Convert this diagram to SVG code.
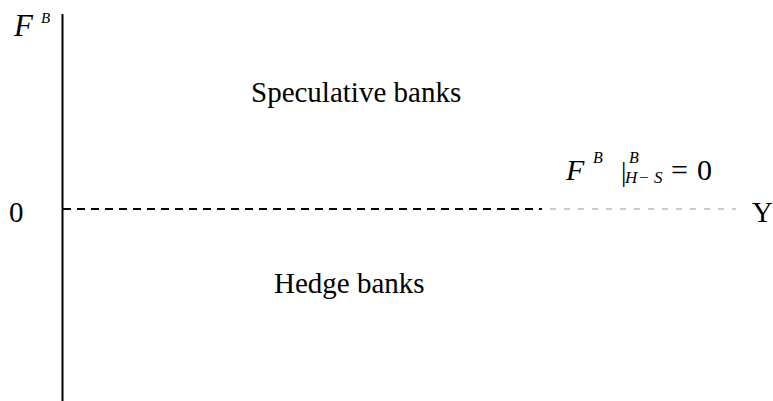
<svg xmlns="http://www.w3.org/2000/svg" width="773" height="401" viewBox="0 0 773 401">
<rect width="773" height="401" fill="#fff"/>
<g id="axes">
<line x1="62.5" y1="14" x2="62.5" y2="401" stroke="#000" stroke-width="2"/>
</g>
<g id="connectors">
<line x1="63" y1="209" x2="542" y2="209" stroke="#000" stroke-width="2" stroke-dasharray="8 6"/>
<line x1="550" y1="209" x2="736" y2="209" stroke="#999" stroke-width="1" stroke-dasharray="6 8"/>
</g>
<g id="labels">
<text font-family="Liberation Serif, serif" font-style="italic" x="14" y="36" font-size="31">F</text>
<text font-family="Liberation Serif, serif" font-style="italic" x="41" y="23" font-size="15">B</text>
<text font-family="Liberation Serif, serif" x="9" y="222" font-size="29">0</text>
<text font-family="Liberation Serif, serif" x="752" y="222" font-size="29">Y</text>
<text font-family="Liberation Serif, serif" x="251" y="102" font-size="29">Speculative banks</text>
<text font-family="Liberation Serif, serif" x="274" y="293" font-size="29">Hedge banks</text>
<g id="formula">
<text font-family="Liberation Serif, serif" font-style="italic" x="566" y="180" font-size="30">F</text>
<text font-family="Liberation Serif, serif" font-style="italic" x="593" y="163" font-size="16">B</text>
<text font-family="Liberation Serif, serif" x="621" y="181" font-size="27">|</text>
<text font-family="Liberation Serif, serif" font-style="italic" x="629" y="163" font-size="16">B</text>
<text font-family="Liberation Serif, serif" font-style="italic" x="625" y="183" font-size="17">H</text>
<text font-family="Liberation Serif, serif" x="639" y="183" font-size="17">−</text>
<text font-family="Liberation Serif, serif" font-style="italic" x="654" y="183" font-size="17">S</text>
<text font-family="Liberation Serif, serif" x="671" y="180" font-size="30">=</text>
<text font-family="Liberation Serif, serif" x="697" y="180" font-size="30">0</text>
</g>
</g>
</svg>
